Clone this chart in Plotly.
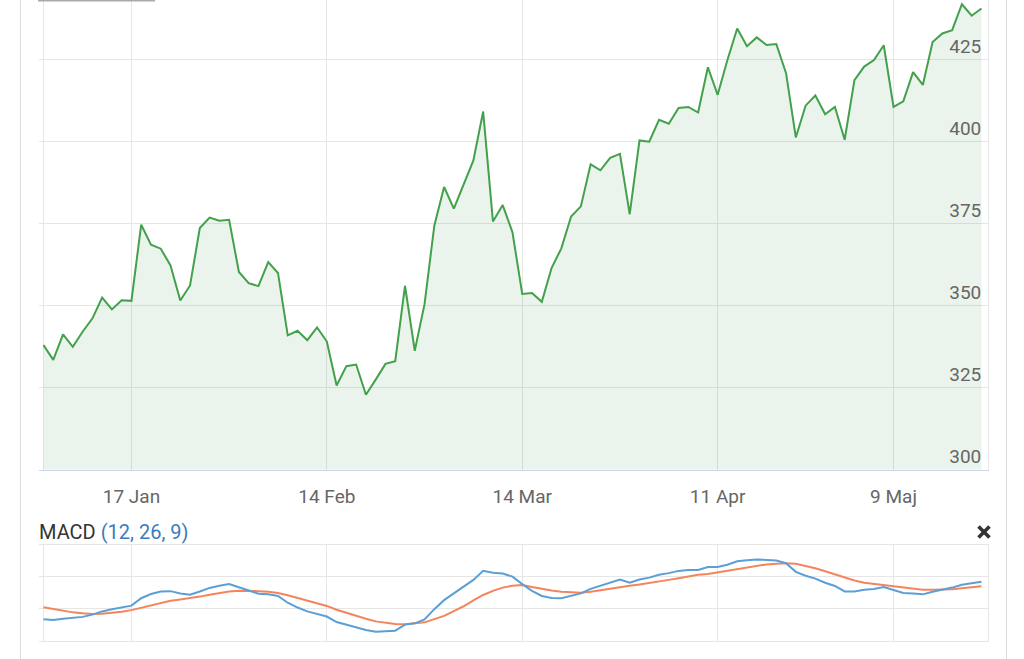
import pandas as pd
import plotly.graph_objects as go

# ---- data ----
holidays = ["2022-01-06", "2022-04-15", "2022-04-18"]
dates = [d.strftime("%Y-%m-%d") for d in pd.bdate_range("2022-01-03", "2022-05-20")
         if d.strftime("%Y-%m-%d") not in holidays]

close = [337.9, 333.4, 341.2, 337.4, 342.0, 346.0, 352.4, 348.8, 351.6, 351.4,
         374.6, 368.5, 367.3, 362.2, 351.5, 356.1, 373.6, 376.8, 375.8, 376.1,
         360.2, 356.8, 355.9, 363.2, 359.9, 340.9, 342.3, 339.4, 343.3, 339.0,
         325.6, 331.5, 332.0, 322.8, 327.4, 332.2, 333.0, 356.0, 336.2, 350.4,
         374.3, 386.1, 379.5, 386.9, 394.2, 409.1, 375.6, 380.6, 372.3, 353.5,
         353.8, 351.1, 361.4, 367.4, 377.1, 380.2, 393.0, 391.2, 395.0, 396.2,
         377.8, 400.3, 399.9, 406.6, 405.4, 410.2, 410.5, 408.8, 422.6, 414.2,
         424.8, 434.4, 429.0, 431.7, 429.4, 429.7, 420.8, 401.2, 410.9, 414.0,
         408.3, 410.5, 400.5, 418.7, 422.8, 424.8, 429.3, 410.5, 412.2, 421.1,
         417.2, 430.3, 432.9, 433.9, 441.8, 438.3, 440.5]

macd = [-3.2, -3.5, -3.1, -2.9, -2.5, -1.8, -0.8, -0.1, 0.5, 1.0,
        3.3, 4.6, 5.4, 5.5, 4.8, 4.4, 5.4, 6.5, 7.2, 7.7,
        6.7, 5.6, 4.7, 4.5, 4.0, 1.9, 0.4, -0.8, -1.6, -2.4,
        -4.1, -4.9, -5.6, -6.6, -7.1, -7.0, -6.8, -4.9, -4.5, -3.3,
        -0.1, 2.7, 4.8, 6.9, 9.0, 11.8, 11.2, 11.0, 10.0, 7.7,
        5.6, 4.0, 3.4, 3.3, 4.0, 4.8, 6.2, 7.2, 8.2, 9.1,
        8.1, 9.1, 9.7, 10.6, 11.1, 11.8, 12.1, 12.1, 13.0, 13.0,
        13.7, 14.8, 15.1, 15.3, 15.2, 15.0, 14.2, 11.5, 10.3, 9.4,
        8.1, 7.1, 5.4, 5.4, 5.9, 6.2, 6.8, 5.9, 4.9, 4.8,
        4.5, 5.3, 5.9, 6.6, 7.5, 7.9, 8.4]

signal = [0.5, -0.1, -0.7, -1.1, -1.4, -1.6, -1.5, -1.3, -0.9, -0.4,
          0.3, 1.0, 1.8, 2.5, 2.9, 3.3, 3.8, 4.4, 5.0, 5.4,
          5.6, 5.6, 5.5, 5.3, 4.9, 4.2, 3.4, 2.5, 1.7, 0.9,
          -0.3, -1.3, -2.2, -3.1, -3.9, -4.4, -4.7, -4.8, -4.6, -4.2,
          -3.2, -2.2, -0.7, 0.8, 2.6, 4.3, 5.6, 6.6, 7.2, 7.4,
          6.8, 6.2, 5.7, 5.3, 5.1, 5.0, 5.3, 5.8, 6.4, 6.9,
          7.2, 7.6, 8.0, 8.5, 9.0, 9.5, 10.0, 10.6, 10.8, 11.3,
          11.9, 12.5, 13.0, 13.4, 13.8, 14.0, 14.2, 14.0, 13.4, 12.6,
          11.7, 10.7, 9.6, 8.8, 8.1, 7.7, 7.4, 7.1, 6.7, 6.3,
          5.9, 5.9, 5.9, 6.1, 6.4, 6.7, 7.0]

tick_dates = ["2022-01-03", "2022-01-17", "2022-02-14", "2022-03-14", "2022-04-11", "2022-05-09"]
tick_labels = ["", "17 Jan", "14 Feb", "14 Mar", "11 Apr", "9 Maj"]
price_ticks = [300, 325, 350, 375, 400, 425]
macd_grid = [0, 10]

# ---- layout helpers (pixel geometry of the 1024x659 canvas) ----
W, H = 1024, 659
px = lambda x: x / W
py = lambda y: 1 - y / H

GRID = "#e6e6e6"
TXT = "#666666"
FONT = "Roboto"

fig = go.Figure()

fig.add_trace(go.Scatter(
    x=dates, y=close, mode="lines", xaxis="x", yaxis="y",
    line=dict(color="#43a04b", width=2), fill="tozeroy",
    fillcolor="rgba(60,145,70,0.10)", hoverinfo="skip", showlegend=False))

fig.add_trace(go.Scatter(
    x=dates, y=signal, mode="lines", xaxis="x2", yaxis="y2",
    line=dict(color="#f5845c", width=2), hoverinfo="skip", showlegend=False))
fig.add_trace(go.Scatter(
    x=dates, y=macd, mode="lines", xaxis="x2", yaxis="y2",
    line=dict(color="#5b9fd6", width=2), hoverinfo="skip", showlegend=False))

xr = [-0.46, 96.67]
xdom = [px(39), px(988)]

fig.update_layout(
    width=W, height=H,
    margin=dict(l=0, r=0, t=0, b=0, pad=0),
    paper_bgcolor="white", plot_bgcolor="white",
    font=dict(family=FONT, size=19, color=TXT),
    xaxis=dict(type="category", domain=xdom, range=xr, anchor="y",
               tickvals=tick_dates, ticktext=tick_labels, ticks="",
               showgrid=True, gridcolor=GRID, gridwidth=1, zeroline=False,
               showline=True, linecolor="#ccd6eb", linewidth=1,
               ticklabelstandoff=10, tickfont=dict(size=19, color=TXT)),
    yaxis=dict(domain=[py(469.5), 1], range=[300, 443.1], side="right", anchor="x",
               tickvals=price_ticks, ticks="", ticklabelposition="inside top",
               ticklabelstandoff=7,
               showgrid=True, gridcolor=GRID, gridwidth=1, zeroline=False,
               showline=True, linecolor=GRID, linewidth=1,
               tickfont=dict(size=19, color=TXT)),
    xaxis2=dict(type="category", domain=xdom, range=xr, anchor="y2",
                tickvals=tick_dates, showticklabels=False, ticks="",
                showgrid=True, gridcolor=GRID, gridwidth=1, zeroline=False,
                showline=True, mirror=True, linecolor=GRID, linewidth=1),
    yaxis2=dict(domain=[py(641), py(544.5)], range=[-10, 20], side="right", anchor="x2",
                tickvals=macd_grid, showticklabels=False, ticks="",
                showgrid=True, gridcolor=GRID, gridwidth=1, zeroline=False,
                showline=True, linecolor=GRID, linewidth=1),
)

# MACD title
fig.add_annotation(xref="paper", yref="paper", x=px(37), y=py(532), xanchor="left", yanchor="middle",
                   text="MACD <span style='color:#3a7cbc'>(12, 26, 9)</span>",
                   showarrow=False, font=dict(family=FONT, size=20, color="#333333"))

shapes = [
    # page card borders
    dict(type="line", xref="paper", yref="paper", x0=px(20.5), x1=px(20.5), y0=0, y1=1,
         line=dict(color="#dddddd", width=1)),
    dict(type="line", xref="paper", yref="paper", x0=px(1006.5), x1=px(1006.5), y0=0, y1=1,
         line=dict(color="#dddddd", width=1)),
    # bottom edge of the button above the chart
    dict(type="line", xref="paper", yref="paper", x0=px(38), x1=px(155), y0=1, y1=1,
         line=dict(color="#aaaaaa", width=3)),
    # close icon
    dict(type="line", xref="paper", yref="paper", x0=px(978.5), x1=px(989.5), y0=py(526.5), y1=py(537.5),
         line=dict(color="#333333", width=3.5)),
    dict(type="line", xref="paper", yref="paper", x0=px(989.5), x1=px(978.5), y0=py(526.5), y1=py(537.5),
         line=dict(color="#333333", width=3.5)),
]
fig.update_layout(shapes=shapes)

fig.write_html("out.html", config={"displayModeBar": False},
               post_script="document.body.style.margin='0';document.body.style.overflow='hidden';")
